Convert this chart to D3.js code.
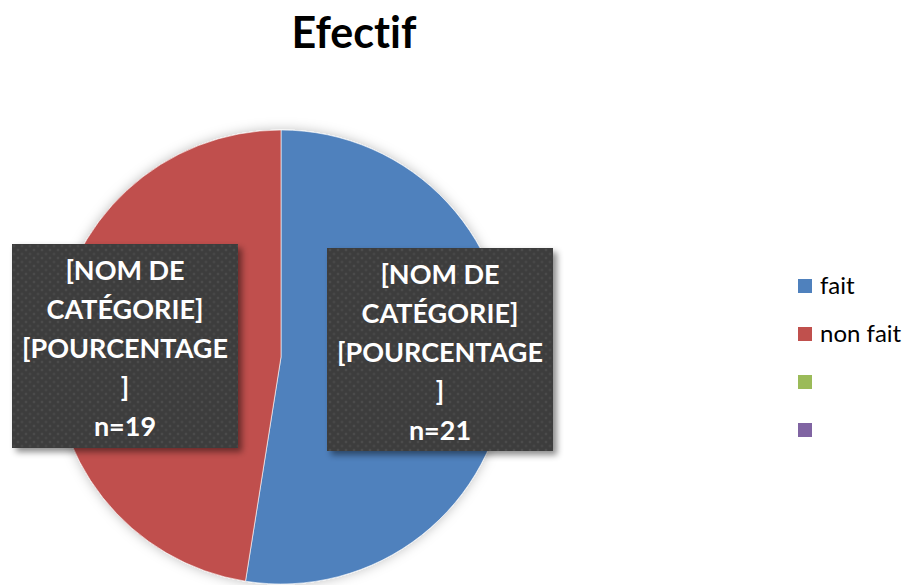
<!DOCTYPE html>
<html>
<head>
<meta charset="utf-8">
<script src="https://cdn.jsdelivr.net/npm/d3@7"></script>
<style>
  body { margin: 0; background: #fff; }
  svg { font-family: Lato, "Open Sans", sans-serif; font-variant-ligatures: none; }
</style>
</head>
<body>
<div id="chart-area"></div>
<script>
const WIDTH = 909
const HEIGHT = 585

// data
const categories = ["fait", "non fait", "", ""]
const values = [21, 19, 0, 0]
const colors = ["#4f81bd", "#c0504d", "#9bbb59", "#8064a2"]
const labelLines = ["[NOM DE", "CATÉGORIE]", "[POURCENTAGE", "]"]

const data = categories.map((c, i) => ({ name: c, value: values[i], color: colors[i] }))

const svg = d3.select("#chart-area").append("svg")
  .attr("width", WIDTH)
  .attr("height", HEIGHT)

const defs = svg.append("defs")

// dotted texture for label boxes
const pat = defs.append("pattern")
  .attr("id", "dots")
  .attr("width", 8)
  .attr("height", 8)
  .attr("patternUnits", "userSpaceOnUse")
pat.append("rect").attr("width", 8).attr("height", 8).attr("fill", "#3d3d3d")
pat.append("circle").attr("cx", 2).attr("cy", 2).attr("r", 1.3).attr("fill", "#4c4c4c")
pat.append("circle").attr("cx", 6).attr("cy", 6).attr("r", 1.3).attr("fill", "#474747")

const shadow = defs.append("filter").attr("id", "shadow")
  .attr("x", "-20%").attr("y", "-20%").attr("width", "140%").attr("height", "140%")
shadow.append("feDropShadow")
  .attr("dx", 4).attr("dy", 4).attr("stdDeviation", 3)
  .attr("flood-color", "#000").attr("flood-opacity", 0.45)

const pieShadow = defs.append("filter").attr("id", "pieShadow")
  .attr("x", "-20%").attr("y", "-20%").attr("width", "140%").attr("height", "140%")
pieShadow.append("feDropShadow")
  .attr("dx", 0).attr("dy", 0).attr("stdDeviation", 6)
  .attr("flood-color", "#000").attr("flood-opacity", 0.25)

// title
svg.append("text")
  .attr("x", 354)
  .attr("y", 48)
  .attr("text-anchor", "middle")
  .attr("font-size", "43px")
  .attr("font-weight", "bold")
  .attr("fill", "#000")
  .text("Efectif")

// pie
const cx = 281, cy = 357, radius = 227
const pie = d3.pie().sort(null).value(d => d.value)
const arc = d3.arc().innerRadius(0).outerRadius(radius)
const arcs = pie(data).filter(d => d.data.value > 0)

const pg = svg.append("g")
  .attr("transform", `translate(${cx}, ${cy})`)
  .attr("filter", "url(#pieShadow)")

pg.selectAll("path")
  .data(arcs)
  .enter().append("path")
  .attr("d", arc)
  .attr("fill", d => d.data.color)
  .attr("stroke", "#fff")
  .attr("stroke-width", 0.6)

// label boxes (placed as Excel did)
const boxes = [
  { x: 327, y: 248, w: 226, h: 203 },
  { x: 12, y: 244, w: 226, h: 204 }
]

arcs.forEach((d, i) => {
  const b = boxes[i]
  const lg = svg.append("g")
  lg.append("rect")
    .attr("x", b.x).attr("y", b.y)
    .attr("width", b.w).attr("height", b.h)
    .attr("fill", "url(#dots)")
    .attr("filter", "url(#shadow)")
  const lines = labelLines.concat([`n=${d.data.value}`])
  const tx = lg.append("text")
    .attr("text-anchor", "middle")
    .attr("font-size", "27px")
    .attr("font-weight", "bold")
    .attr("fill", "#fff")
  lines.forEach((l, j) => {
    tx.append("tspan")
      .attr("x", b.x + b.w / 2)
      .attr("y", b.y + 36 + j * 39)
      .text(l)
  })
})

// legend
const legend = svg.append("g")
  .attr("transform", "translate(798, 279)")
const items = legend.selectAll("g")
  .data(data)
  .enter().append("g")
  .attr("transform", (d, i) => `translate(0, ${i * 48})`)
items.append("rect")
  .attr("width", 14).attr("height", 14)
  .attr("fill", d => d.color)
items.append("text")
  .attr("x", 22)
  .attr("y", 15)
  .attr("font-size", "24px")
  .attr("fill", "#000")
  .text(d => d.name)
</script>
</body>
</html>
